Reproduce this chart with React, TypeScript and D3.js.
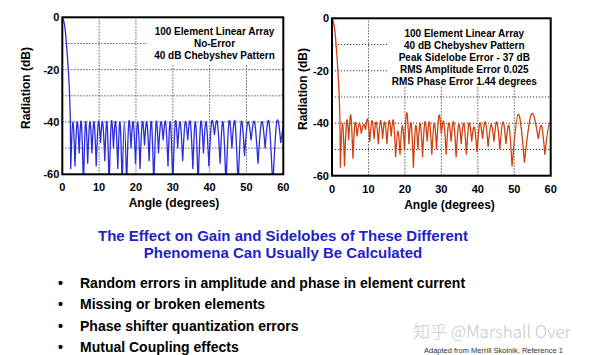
import React from 'react';
import * as d3 from 'd3';

const angleTicks = [0, 10, 20, 30, 40, 50, 60];
const dbTicks = [0, -20, -40, -60];
const gridAngles = [10, 20, 30, 40, 50];
const gridDb = [-10, -20, -30, -40, -50];

// main beam (shared by both patterns)
const mainLobeDeg = [0, 0.4, 0.8, 1.2, 1.6, 1.9, 2.1, 2.2];
const mainLobeDb = [0, -1.5, -5, -11.5, -19.5, -27, -35, -41];

// Left: no-error 40 dB Chebyshev pattern (null angles, null levels, sidelobe peaks)
const leftNullDeg = [2.29, 3.44, 4.59, 5.74, 6.89, 8.05, 9.21, 10.37, 11.54, 12.71, 13.89, 15.07, 16.26, 17.46, 18.66, 19.88, 21.10, 22.33, 23.58, 24.84, 26.11, 27.39, 28.69, 30.00, 31.33, 32.68, 34.06, 35.45, 36.87, 38.32, 39.79, 41.30, 42.84, 44.43, 46.05, 47.73, 49.46, 51.26, 53.13, 55.08, 57.14, 59.32, 61.64];
const leftNullDb = [-58, -57, -52, -65, -56, -52, -57, -48, -55, -65, -50, -58, -65, -65, -50, -56, -58, -49, -55, -65, -52, -47, -57, -65, -50, -55, -47, -58, -65, -52, -57, -45, -56, -65, -50, -65, -53, -47, -56, -50, -65, -48, -50];
const leftPeakDb = [-40, -40, -40, -40, -40, -40, -40, -40, -40, -40, -40, -40, -40, -40, -40, -40, -40, -40, -40, -40, -40, -40, -40, -40, -40, -40, -40, -40, -40, -40, -40, -40, -40, -40, -40, -40, -40, -40, -40, -40, -40, -40];

// Right: pattern with amplitude / phase errors
const rightNullDeg = [2.29, 3.44, 4.59, 5.74, 6.89, 8.05, 9.21, 10.37, 11.54, 12.71, 13.89, 15.07, 16.26, 17.46, 18.66, 19.88, 21.10, 22.33, 23.58, 24.84, 26.11, 27.39, 28.69, 30.00, 31.33, 32.68, 34.06, 35.45, 36.87, 38.32, 39.79, 41.30, 42.84, 44.43, 46.05, 47.73, 49.40, 52.80, 56.60, 58.40, 61.00];
const rightNullDb = [-57, -56.5, -46.5, -53.5, -45, -44, -42.5, -47, -46, -48, -46, -48, -45, -53, -52, -50, -48, -57, -50, -53, -47, -52, -50, -44, -52, -47, -53, -48, -52, -47, -51, -46, -49, -47, -50, -48, -56.5, -55, -46, -52, -50];
const rightPeakDb = [-40, -39, -37, -40, -40, -40.5, -38.5, -39, -39.5, -39, -39.5, -39, -39, -43, -41, -36, -40, -41, -40, -39.5, -39.5, -40, -37, -39.5, -40, -39.5, -40.5, -40, -40, -41.5, -40, -39.5, -40.5, -39.5, -39.5, -41, -36.5, -36.5, -41, -40];

const leftNotes = ['100 Element Linear Array', 'No-Error', '40 dB Chebyshev Pattern'];
const rightNotes = ['100 Element Linear Array', '40 dB Chebyshev Pattern', 'Peak Sidelobe Error - 37 dB', 'RMS Amplitude Error 0.025', 'RMS Phase Error 1.44 degrees'];

const titleLines = ['The Effect on Gain and Sidelobes of These Different', 'Phenomena Can Usually Be Calculated'];
const bullets = ['Random errors in amplitude and phase in element current', 'Missing or broken elements', 'Phase shifter quantization errors', 'Mutual Coupling effects'];

const FONT = 'Liberation Sans, Arial, Helvetica, sans-serif';

type PanelProps = {
  id: string;
  left: number; right: number; top: number; bottom: number;
  nullDeg: number[]; nullDb: number[]; peakDb: number[];
  color: string;
  notes: string[];
  box: [number, number, number, number];
  noteX: number; noteY0: number; noteGap: number;
  yLabelX: number; yLabelY: number; xLabelX: number;
};

function Panel(p: PanelProps) {
  const x = d3.scaleLinear().domain([0, 60]).range([p.left, p.right]);
  const y = d3.scaleLinear().domain([-60, 0]).range([p.bottom, p.top]);
  const lobe = d3.line<[number, number]>().x(d => x(d[0])).y(d => y(d[1])).curve(d3.curveNatural);
  const main = d3.line<[number, number]>().x(d => x(d[0])).y(d => y(d[1])).curve(d3.curveMonotoneX);
  const mainPts: [number, number][] = mainLobeDeg.map((a, i) => [a, mainLobeDb[i]] as [number, number]);
  mainPts.push([p.nullDeg[0], p.nullDb[0]]);
  let d = main(mainPts) || '';
  p.peakDb.forEach((pk, i) => {
    const a0 = p.nullDeg[i];
    const a1 = p.nullDeg[i + 1];
    d += lobe([[a0, p.nullDb[i]], [(a0 + a1) / 2, pk], [a1, p.nullDb[i + 1]]]) || '';
  });
  const [bx0, by0, bx1, by1] = p.box;
  return (
    <g>
      <defs>
        <clipPath id={p.id}>
          <rect x={p.left} y={p.top} width={p.right - p.left} height={p.bottom - p.top} />
        </clipPath>
      </defs>
      {gridDb.map(v => (
        <line key={'h' + v} x1={p.left} x2={p.right} y1={y(v)} y2={y(v)} stroke="#333" strokeWidth={1} strokeDasharray="1.2 1.8" />
      ))}
      {gridAngles.map(v => (
        <line key={'v' + v} x1={x(v)} x2={x(v)} y1={p.top} y2={p.bottom} stroke="#333" strokeWidth={1} strokeDasharray="1.2 1.8" />
      ))}
      <rect x={bx0} y={by0} width={bx1 - bx0} height={by1 - by0} fill="#fff" />
      {p.notes.map((t, i) => (
        <text key={t} x={p.noteX} y={p.noteY0 + i * p.noteGap} textAnchor="middle" fontFamily={FONT} fontWeight="bold" fontSize={10} fill="#000">{t}</text>
      ))}
      <path d={d} fill="none" stroke={p.color} strokeWidth={1.3} strokeLinejoin="round" clipPath={`url(#${p.id})`} />
      <rect x={p.left} y={p.top} width={p.right - p.left} height={p.bottom - p.top} fill="none" stroke="#000" strokeWidth={2} />
      {dbTicks.map(v => (
        <text key={'yt' + v} x={p.left - 3} y={y(v) + 4} textAnchor="end" fontFamily={FONT} fontWeight="bold" fontSize={11} fill="#000">{v}</text>
      ))}
      {angleTicks.map(v => (
        <text key={'xt' + v} x={x(v)} y={p.bottom + 17} textAnchor="middle" fontFamily={FONT} fontWeight="bold" fontSize={11} fill="#000">{v}</text>
      ))}
      <text x={p.xLabelX} y={p.bottom + 33} textAnchor="middle" fontFamily={FONT} fontWeight="bold" fontSize={12} fill="#000">Angle (degrees)</text>
      <text transform={`translate(${p.yLabelX},${p.yLabelY}) rotate(-90)`} textAnchor="middle" fontFamily={FONT} fontWeight="bold" fontSize={12} fill="#000">Radiation (dB)</text>
    </g>
  );
}

export default function App() {
  return (
    <svg width={600} height={355} viewBox="0 0 600 355" style={{ position: 'absolute', left: 0, top: 0, background: '#fff' }}>
      <rect x={0} y={0} width={600} height={355} fill="#fff" />
      <Panel id="clipL" left={62.3} right={283.3} top={17.3} bottom={174.3}
        nullDeg={leftNullDeg} nullDb={leftNullDb} peakDb={leftPeakDb} color="#2b2be0"
        notes={leftNotes} box={[147, 18, 282, 65]} noteX={214.5} noteY0={35.3} noteGap={11.7}
        yLabelX={29.5} yLabelY={88} xLabelX={174} />
      <Panel id="clipR" left={332} right={550.7} top={18.3} bottom={175.7}
        nullDeg={rightNullDeg} nullDb={rightNullDb} peakDb={rightPeakDb} color="#d2400f"
        notes={rightNotes} box={[389, 19, 549, 87]} noteX={464.3} noteY0={37} noteGap={12}
        yLabelX={307} yLabelY={89} xLabelX={449.5} />
      {titleLines.map((t, i) => (
        <text key={t} x={283} y={240.5 + i * 17.5} textAnchor="middle" fontFamily={FONT} fontWeight="bold" fontSize={15} fill="#1f1fcc">{t}</text>
      ))}
      {bullets.map((t, i) => (
        <g key={t}>
          <text x={58} y={288 + i * 21.3} fontFamily={FONT} fontWeight="bold" fontSize={14} fill="#000">•</text>
          <text x={80} y={288 + i * 21.3} fontFamily={FONT} fontWeight="bold" fontSize={14} fill="#000">{t}</text>
        </g>
      ))}
      <text x={413} y={338} fontFamily="Noto Sans CJK SC, Noto Sans, sans-serif" fontSize={17} fill="#c8c8c8" fontWeight={300}>知乎 @Marshall Over</text>
      <text x={424} y={353} fontFamily={FONT} fontSize={7.5} fill="#333">Adapted from Merrill Skolnik, Reference 1</text>
    </svg>
  );
}
